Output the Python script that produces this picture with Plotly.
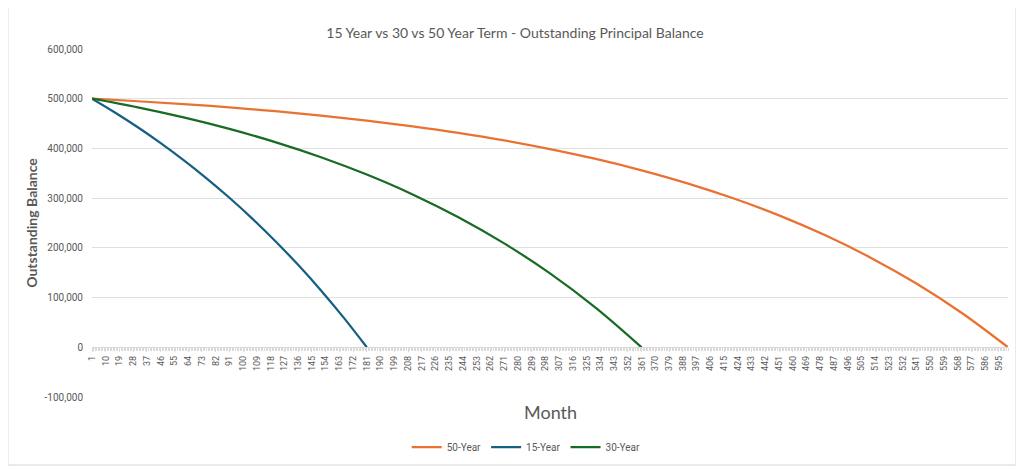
import plotly.graph_objects as go

# balances (every 30 months, 15-year every 15)
months_50 = [1, 31, 61, 91, 121, 151, 181, 211, 241, 271, 301,
             331, 361, 391, 421, 451, 481, 511, 541, 571, 601]
bal_50 = [500000, 494900, 489200, 482500, 474800, 466100, 456100, 444500, 431300, 416200, 398800,
          378900, 356000, 329800, 299700, 265300, 225700, 180300, 128200, 68500, 0]

months_15 = [1, 16, 31, 46, 61, 76, 91, 106, 121, 136, 151, 166, 181]
bal_15 = [500000, 472200, 442500, 410600, 376400, 339900, 300800, 258900, 213900, 165800, 114300, 59100, 0]

months_30 = [1, 31, 61, 91, 121, 151, 181, 211, 241, 271, 301, 331, 361]
bal_30 = [500000, 482500, 462300, 439200, 412700, 382300, 347400, 307500, 261600, 209000, 148700, 79400, 0]

x_ticks = list(range(1, 601, 9))
y_ticks = [-100000, 0, 100000, 200000, 300000, 400000, 500000, 600000]
y_labels = ['-100,000', '0', '100,000', '200,000', '300,000', '400,000', '500,000', '600,000']

grey = '#595959'
narrow = 'Liberation Sans Narrow, Arial Narrow, Roboto, sans-serif'

fig = go.Figure()
fig.add_trace(go.Scatter(x=months_50, y=bal_50, name='50-Year', mode='lines',
                         line=dict(color='#E97132', width=2.25, shape='spline', smoothing=1)))
fig.add_trace(go.Scatter(x=months_15, y=bal_15, name='15-Year', mode='lines',
                         line=dict(color='#156082', width=2.25, shape='spline', smoothing=1)))
fig.add_trace(go.Scatter(x=months_30, y=bal_30, name='30-Year', mode='lines',
                         line=dict(color='#196B24', width=2.25, shape='spline', smoothing=1)))

# page has an 8px body margin, so the figure is sized 8px smaller
fig.update_layout(
    width=1016, height=461,
    margin=dict(l=84, r=16, t=41, b=72, autoexpand=False),
    paper_bgcolor='white', plot_bgcolor='white',
    font=dict(family='Lato, sans-serif', color=grey),
    title=dict(text='15 Year vs 30 vs 50 Year Term - Outstanding Principal Balance',
               x=0.499, xanchor='center', y=0.945, yanchor='middle',
               font=dict(size=14, color=grey)),
    showlegend=True,
    legend=dict(orientation='h', x=0.474, xanchor='center', y=-0.144, yanchor='middle',
                font=dict(family=narrow, size=10, color=grey)),
)

fig.update_xaxes(
    range=[1, 601], tickvals=x_ticks, ticktext=[str(v) for v in x_ticks],
    tickangle=-90, tickfont=dict(family=narrow, size=9, color=grey),
    showgrid=False, zeroline=False, automargin=False,
    showline=True, linecolor='#d9d9d9', linewidth=1,
    ticks='outside', ticklen=4, tickcolor='#d9d9d9',
    minor=dict(dtick=1, tick0=1, ticks='outside', ticklen=3, tickcolor='#d9d9d9'),
    anchor='free', position=1/7,
)
fig.update_yaxes(
    range=[-100000, 600000], tickvals=y_ticks, ticktext=y_labels,
    tickfont=dict(family=narrow, size=10, color=grey),
    showgrid=True, gridcolor='#e0e0e0', gridwidth=1, zeroline=False,
    ticklabelstandoff=8, automargin=False,
    title=dict(text='<b>Outstanding Balance</b>', font=dict(size=14, color=grey), standoff=3),
)

fig.add_annotation(text='Month', xref='paper', yref='paper', x=0.5, y=-0.043,
                   yanchor='middle', showarrow=False, font=dict(size=18, color=grey))

fig.add_shape(type='rect', xref='paper', yref='paper',
              x0=-0.0917, x1=1.0087, y0=-0.1954, y1=1.1207,
              line=dict(color='#d9d9d9', width=1), fillcolor='rgba(0,0,0,0)', layer='below')

fig.write_html('out.html')
